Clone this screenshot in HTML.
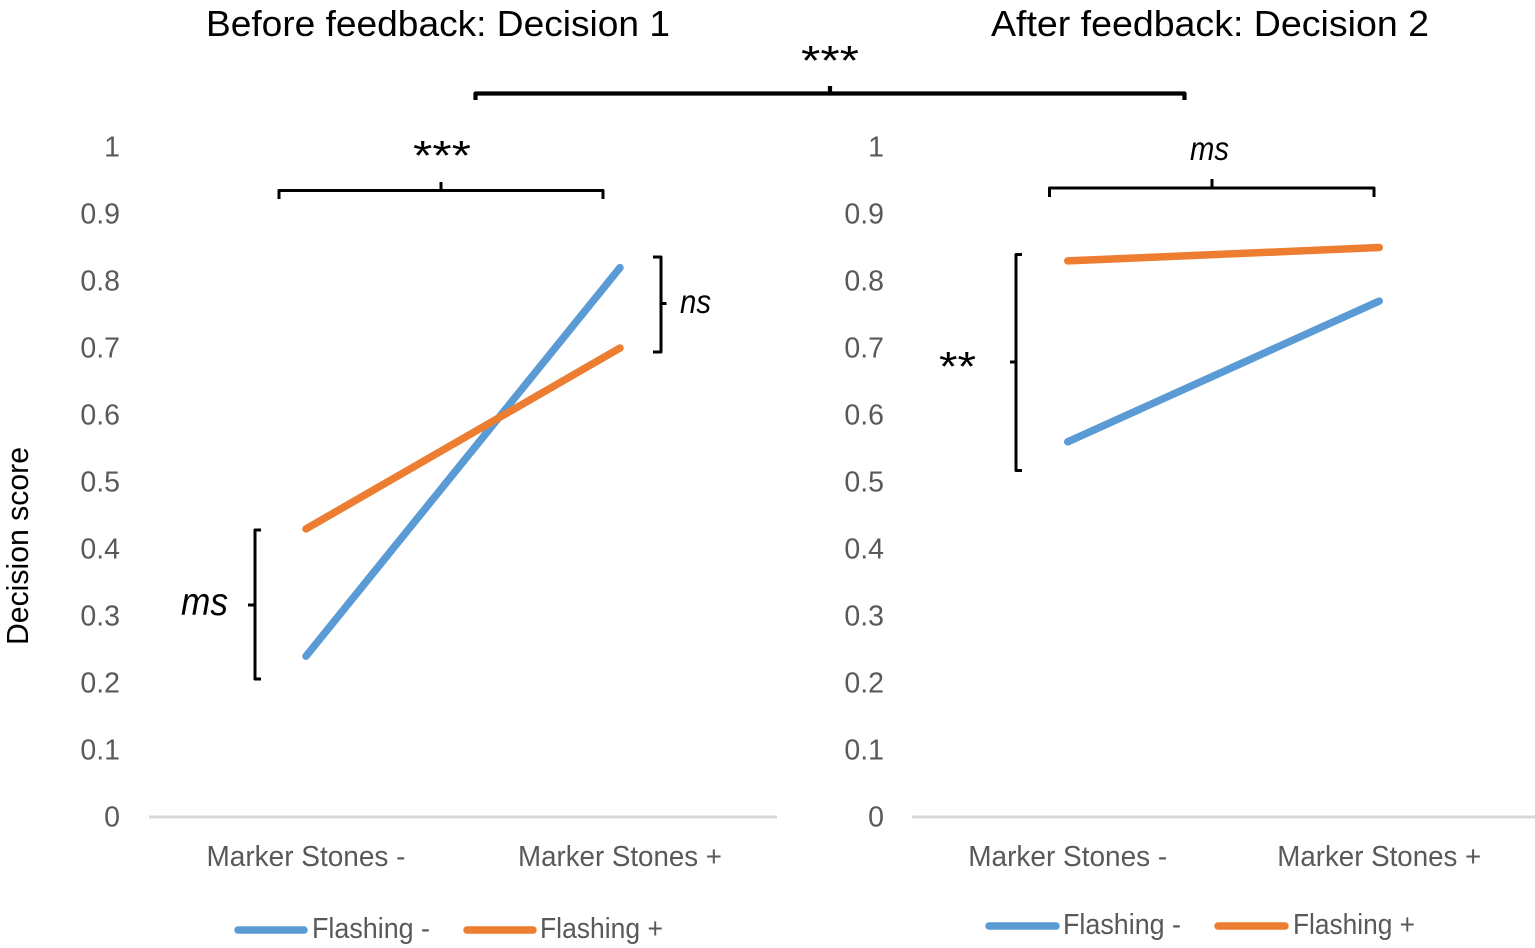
<!DOCTYPE html>
<html lang="en">
<head>
<meta charset="utf-8">
<title>Decision score before and after feedback</title>
<style>
html,body{margin:0;padding:0;background:#fff;width:1535px;height:948px;overflow:hidden}
svg{display:block}
text{font-family:"Liberation Sans",sans-serif}
.tick,.cat,.leg{fill:#595959}
.brk{fill:none;stroke:#000;stroke-width:3;stroke-linejoin:round}
.note{fill:#000}
.it{font-style:italic}
</style>
</head>
<body>
<svg id="chart" xmlns="http://www.w3.org/2000/svg" width="1535" height="948" viewBox="0 0 1535 948">
  <text x="206" y="36" font-size="36" fill="#000" textLength="464" lengthAdjust="spacingAndGlyphs">Before feedback: Decision 1</text>
  <text x="991" y="36" font-size="36" fill="#000" textLength="438" lengthAdjust="spacingAndGlyphs">After feedback: Decision 2</text>
  <text transform="translate(28,645) rotate(-90)" font-size="31" fill="#000" textLength="198" lengthAdjust="spacingAndGlyphs">Decision score</text>

  <path class="brk" style="stroke-width:4.2" d="M475.5 100V93.5H1184.5V100M830 93.5V86"/>
  <text class="note" x="801" y="75" font-size="42" textLength="58" lengthAdjust="spacingAndGlyphs">***</text>

  <path class="brk" d="M279 199V190.5H603V199M441 190.5V182"/>
  <text class="note" x="413" y="170" font-size="42" textLength="58" lengthAdjust="spacingAndGlyphs">***</text>
  <path class="brk" d="M653 257H661V352H653M661 303.5H666.5"/>
  <text class="note it" x="680" y="313" font-size="33" textLength="31" lengthAdjust="spacingAndGlyphs">ns</text>
  <path class="brk" d="M261 530H255V679H261M255 605H248"/>
  <text class="note it" x="181" y="615" font-size="39" textLength="47" lengthAdjust="spacingAndGlyphs">ms</text>

  <path class="brk" d="M1049.5 197V188H1374V197M1212 188V179"/>
  <text class="note it" x="1190" y="160" font-size="33" textLength="39" lengthAdjust="spacingAndGlyphs">ms</text>
  <path class="brk" d="M1022 254.5H1016V470.5H1022M1016 362H1010"/>
  <text class="note" x="939" y="381" font-size="42" textLength="37" lengthAdjust="spacingAndGlyphs">**</text>

  <g>
    <line x1="238" y1="930" x2="304" y2="930" stroke="#5b9bd5" stroke-width="7.5" stroke-linecap="round"/>
    <text class="leg" x="312" y="938" font-size="29" textLength="118" lengthAdjust="spacingAndGlyphs">Flashing -</text>
    <line x1="467" y1="930" x2="533" y2="930" stroke="#ed7d31" stroke-width="7.5" stroke-linecap="round"/>
    <text class="leg" x="540" y="938" font-size="29" textLength="123" lengthAdjust="spacingAndGlyphs">Flashing +</text>
  </g>
  <g>
    <line x1="989" y1="926" x2="1056" y2="926" stroke="#5b9bd5" stroke-width="7.5" stroke-linecap="round"/>
    <text class="leg" x="1063" y="934" font-size="29" textLength="118" lengthAdjust="spacingAndGlyphs">Flashing -</text>
    <line x1="1218" y1="926" x2="1285" y2="926" stroke="#ed7d31" stroke-width="7.5" stroke-linecap="round"/>
    <text class="leg" x="1293" y="934" font-size="29" textLength="122" lengthAdjust="spacingAndGlyphs">Flashing +</text>
  </g>
</svg>
<script>
const categories = ['Marker Stones -', 'Marker Stones +'];
const tickLabels = ['0', '0.1', '0.2', '0.3', '0.4', '0.5', '0.6', '0.7', '0.8', '0.9', '1'];
const tickValues = [0, 0.1, 0.2, 0.3, 0.4, 0.5, 0.6, 0.7, 0.8, 0.9, 1];
const decision1FlashingMinus = [0.24, 0.82];
const decision1FlashingPlus = [0.43, 0.70];
const decision2FlashingMinus = [0.56, 0.77];
const decision2FlashingPlus = [0.83, 0.85];

const svg = document.getElementById('chart');
const NS = 'http://www.w3.org/2000/svg';
const Y0 = 817, Y1 = 147;

function yScale(v) { return Y0 + (Y1 - Y0) * v; }
function xScale(left, right, i) { return left + (right - left) * (i + 0.5) / categories.length; }

function drawPanel(prefix, left, right, labelRight, minusValues, plusValues) {
  const axis = document.createElementNS(NS, 'line');
  
  
  axis.setAttribute('x1', left);
  axis.setAttribute('x2', right);
  axis.setAttribute('y1', Y0);
  axis.setAttribute('y2', Y0);
  axis.setAttribute('stroke', '#d9d9d9');
  axis.setAttribute('stroke-width', '3');
  svg.appendChild(axis);

  tickValues.forEach(function (v, i) {
    const t = document.createElementNS(NS, 'text');
    
    
    t.setAttribute('class', 'tick');
    t.setAttribute('x', labelRight);
    t.setAttribute('y', yScale(v) + 9.5);
    t.setAttribute('font-size', '28.5');
    t.setAttribute('text-anchor', 'end');
    t.textContent = tickLabels[i];
    svg.appendChild(t);
  });

  categories.forEach(function (c, i) {
    const t = document.createElementNS(NS, 'text');
    
    
    t.setAttribute('class', 'cat');
    t.setAttribute('x', xScale(left, right, i));
    t.setAttribute('y', 866);
    t.setAttribute('font-size', '29');
    t.setAttribute('text-anchor', 'middle');
    t.setAttribute('textLength', i === 0 ? '199' : '204');
    t.setAttribute('lengthAdjust', 'spacingAndGlyphs');
    t.textContent = c;
    svg.appendChild(t);
  });

  function series(values, color, name) {
    const p = document.createElementNS(NS, 'polyline');
    
    
    p.setAttribute('points', values.map(function (v, i) {
      return xScale(left, right, i) + ',' + yScale(v);
    }).join(' '));
    p.setAttribute('fill', 'none');
    p.setAttribute('stroke', color);
    p.setAttribute('stroke-width', '7.5');
    p.setAttribute('stroke-linecap', 'round');
    p.setAttribute('stroke-linejoin', 'round');
    svg.appendChild(p);
  }
  series(minusValues, '#5b9bd5', 'flashing-minus');
  series(plusValues, '#ed7d31', 'flashing-plus');
}

drawPanel('left', 149, 777, 120, decision1FlashingMinus, decision1FlashingPlus);
drawPanel('right', 912, 1535, 884, decision2FlashingMinus, decision2FlashingPlus);
</script>
</body>
</html>
